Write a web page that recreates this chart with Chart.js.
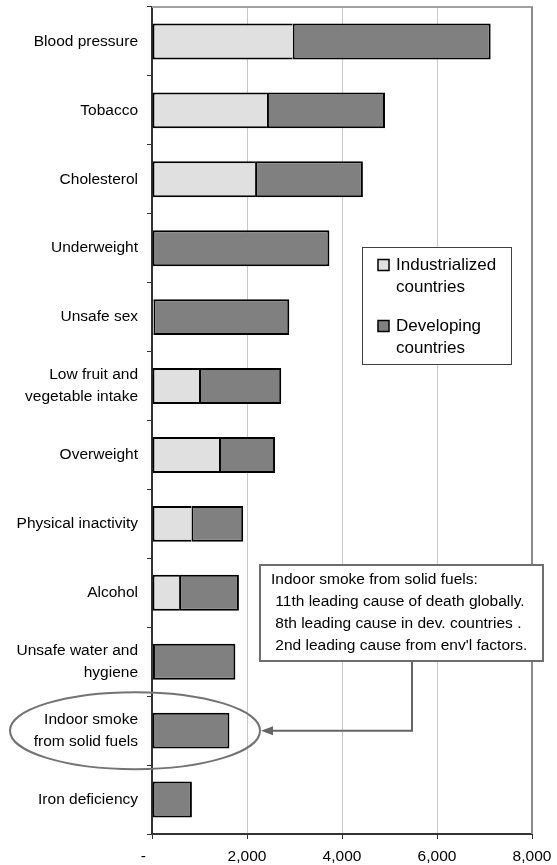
<!DOCTYPE html>
<html>
<head>
<meta charset="utf-8">
<script src="https://cdn.jsdelivr.net/npm/chart.js@4/dist/chart.umd.min.js"></script>
<style>
  html, body { margin: 0; padding: 0; background: #fff; }
  #wrap { width: 557px; height: 865px; }
</style>
</head>
<body>
<div id="wrap"><canvas id="c" width="557" height="865"></canvas></div>
<script>
const categories = [
  ['Blood pressure'],
  ['Tobacco'],
  ['Cholesterol'],
  ['Underweight'],
  ['Unsafe sex'],
  ['Low fruit and', 'vegetable intake'],
  ['Overweight'],
  ['Physical inactivity'],
  ['Alcohol'],
  ['Unsafe water and', 'hygiene'],
  ['Indoor smoke', 'from solid fuels'],
  ['Iron deficiency']
];
const industrialized = [2960, 2420, 2170, 0, 30, 990, 1410, 830, 570, 20, 0, 0];
const developing     = [4170, 2485, 2270, 3735, 2860, 1730, 1180, 1090, 1260, 1735, 1630, 840];
const xTickLabels = ['-    ', '2,000', '4,000', '6,000', '8,000'];
const legendLines = [['Industrialized', 'countries'], ['Developing', 'countries']];
const noteLines = [
  'Indoor smoke from solid fuels:',
  ' 11th leading cause of death globally.',
  ' 8th leading cause in dev. countries .',
  ' 2nd leading cause from env\'l factors.'
];

const FONT = '"Liberation Sans", Arial, sans-serif';
const LIGHT = '#e0e0e0';
const DARK = '#808080';

const overlay = {
  id: 'overlay',
  beforeDatasetsDraw(chart) {
    const ctx = chart.ctx, a = chart.chartArea;
    ctx.save();
    ctx.strokeStyle = '#a0a0a0';
    ctx.lineWidth = 2;
    ctx.beginPath();
    ctx.moveTo(a.left, a.top);
    ctx.lineTo(a.right + 1, a.top);
    ctx.stroke();
    ctx.strokeStyle = '#8c8c8c';
    ctx.beginPath();
    ctx.moveTo(a.right, a.top);
    ctx.lineTo(a.right, a.bottom);
    ctx.stroke();
    ctx.restore();
  },
  afterDraw(chart) {
    const ctx = chart.ctx;
    const y = chart.scales.y;
    ctx.save();
    // Legend
    const lx = 362, ly = 247, lw = 149, lh = 117;
    ctx.fillStyle = '#fff';
    ctx.fillRect(lx, ly, lw, lh);
    ctx.strokeStyle = '#404040';
    ctx.lineWidth = 1;
    ctx.strokeRect(lx + 0.5, ly + 0.5, lw, lh);
    const cols = [LIGHT, DARK];
    const rowY = [265, 326];
    ctx.font = '17px ' + FONT;
    ctx.textBaseline = 'middle';
    ctx.textAlign = 'left';
    for (let i = 0; i < 2; i++) {
      ctx.fillStyle = cols[i];
      ctx.fillRect(378, rowY[i] - 5.5, 11, 11);
      ctx.strokeStyle = '#000';
      ctx.lineWidth = 1.5;
      ctx.strokeRect(378, rowY[i] - 5.5, 11, 11);
      ctx.fillStyle = '#000';
      legendLines[i].forEach((t, j) => ctx.fillText(t, 396, rowY[i] + j * 22));
    }
    // Note box
    const bx = 260, by = 565, bw = 283, bh = 96;
    ctx.fillStyle = '#fff';
    ctx.fillRect(bx, by, bw, bh);
    ctx.strokeStyle = '#6e6e6e';
    ctx.lineWidth = 2;
    ctx.strokeRect(bx, by, bw, bh);
    ctx.fillStyle = '#000';
    ctx.font = '15.5px ' + FONT;
    noteLines.forEach((t, i) => ctx.fillText(t, 271, 580 + i * 22));
    // Connector arrow
    const yc = y.getPixelForValue(10);
    ctx.strokeStyle = '#666';
    ctx.lineWidth = 2;
    ctx.beginPath();
    ctx.moveTo(412, by + bh);
    ctx.lineTo(412, yc);
    ctx.lineTo(270, yc);
    ctx.stroke();
    ctx.fillStyle = '#666';
    ctx.beginPath();
    ctx.moveTo(261, yc);
    ctx.lineTo(273, yc - 4.5);
    ctx.lineTo(273, yc + 4.5);
    ctx.closePath();
    ctx.fill();
    // Ellipse
    ctx.strokeStyle = '#737373';
    ctx.lineWidth = 2;
    ctx.beginPath();
    ctx.ellipse(135, yc, 125, 38.5, 0, 0, Math.PI * 2);
    ctx.stroke();
    ctx.restore();
  }
};

new Chart(document.getElementById('c'), {
  type: 'bar',
  data: {
    labels: categories,
    datasets: [
      {
        label: 'Industrialized countries',
        data: industrialized,
        backgroundColor: LIGHT,
        borderColor: '#000',
        borderWidth: { top: 2, bottom: 2, left: 2, right: 0 },
        borderSkipped: false
      },
      {
        label: 'Developing countries',
        data: developing,
        backgroundColor: DARK,
        borderColor: '#000',
        borderWidth: 2,
        borderSkipped: false
      }
    ]
  },
  options: {
    indexAxis: 'y',
    responsive: false,
    animation: false,
    layout: { padding: { top: 7, right: 25, bottom: 0, left: 0 } },
    categoryPercentage: 1,
    barPercentage: 0.52,
    plugins: { legend: { display: false }, tooltip: { enabled: false } },
    scales: {
      x: {
        stacked: true,
        min: 0, max: 8000,
        ticks: {
          stepSize: 2000,
          color: '#000',
          padding: 8,
          maxRotation: 0,
          font: { family: FONT, size: 15.5 },
          callback: (v, i) => xTickLabels[i]
        },
        grid: {
          color: c => c.index === 4 ? 'rgba(0,0,0,0)' : '#c8c8c8',
          lineWidth: 1,
          tickColor: '#333',
          tickLength: 5
        },
        border: { color: '#333', width: 2 },
        afterFit: s => { s.height = 31; s.paddingLeft = 0; s.paddingRight = 0; }
      },
      y: {
        stacked: true,
        ticks: {
          color: '#000',
          padding: 9,
          font: { family: FONT, size: 15.5, lineHeight: 1.42 }
        },
        grid: {
          drawOnChartArea: false,
          offset: true,
          color: '#333',
          tickLength: 5
        },
        border: { color: '#333', width: 2 },
        afterFit: s => { s.width = 152; s.paddingTop = 0; s.paddingBottom = 0; }
      }
    }
  },
  plugins: [overlay]
});
</script>
</body>
</html>
